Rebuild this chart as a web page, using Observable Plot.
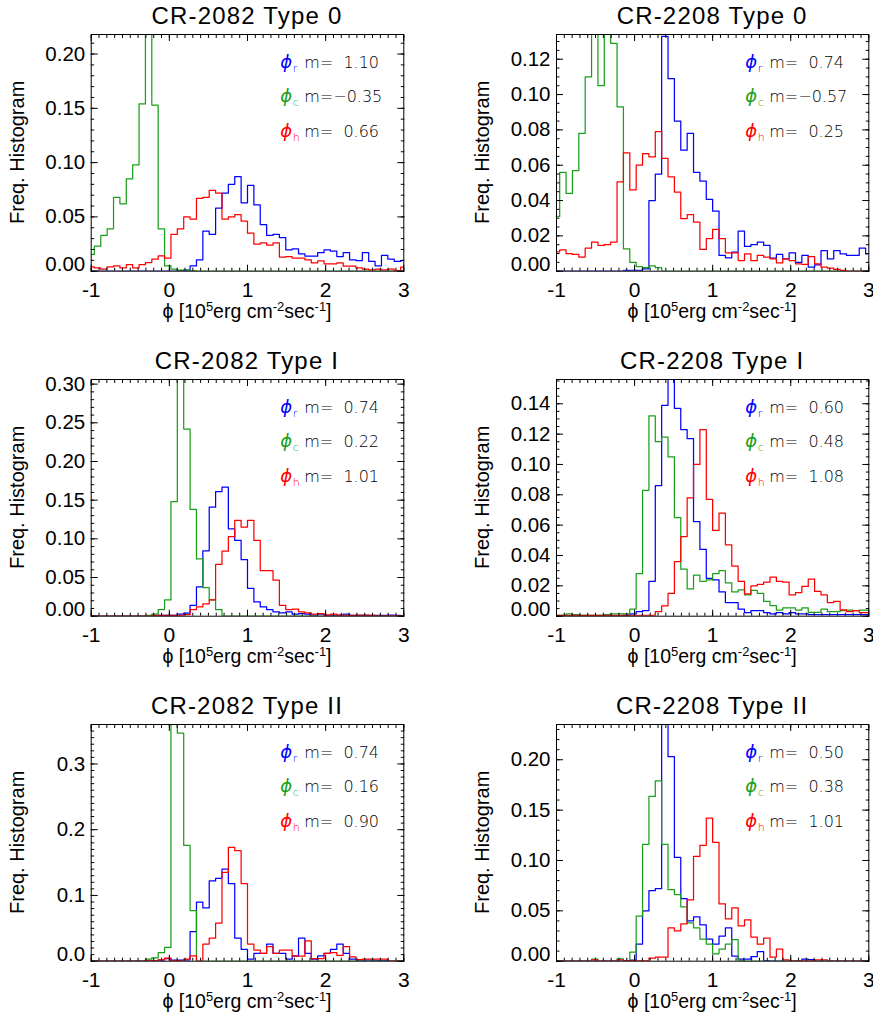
<!DOCTYPE html>
<html><head><meta charset="utf-8">
<script src="https://cdn.jsdelivr.net/npm/d3@7"></script>
<script src="https://cdn.jsdelivr.net/npm/@observablehq/plot@0.6"></script>
<style>
body{margin:0;background:#fff;}
#fig{position:relative;width:873px;height:1023px;overflow:hidden;background:#fff;}
.panel{position:absolute;}
.panel svg{overflow:visible;}
</style></head><body><div id="fig"></div>
<script>
// ---- bin centres (50 bins spanning -1 .. 3) ----
const bins = [-1,-0.9184,-0.8367,-0.7551,-0.6735,-0.5918,-0.5102,-0.4286,-0.3469,-0.2653,
-0.1837,-0.1020,-0.0204,0.0612,0.1429,0.2245,0.3061,0.3878,0.4694,0.5510,
0.6327,0.7143,0.7959,0.8776,0.9592,1.0408,1.1224,1.2041,1.2857,1.3673,
1.4490,1.5306,1.6122,1.6939,1.7755,1.8571,1.9388,2.0204,2.1020,2.1837,
2.2653,2.3469,2.4286,2.5102,2.5918,2.6735,2.7551,2.8367,2.9184,3.0];

const titles = ["CR-2082 Type 0","CR-2208 Type 0","CR-2082 Type I","CR-2208 Type I","CR-2082 Type II","CR-2208 Type II"];
const mR = ["1.10","0.74","0.74","0.60","0.74","0.50"];
const mC = ["\u22120.35","\u22120.57","0.22","0.48","0.16","0.38"];
const mH = ["0.66","0.25","1.01","1.08","0.90","1.01"];
const yMax = [0.218,0.134,0.306,0.156,0.36,0.235];
const yStep = [0.05,0.02,0.05,0.02,0.1,0.05];
const yMinorStep = [0.01,0.005,0.01,0.005,0.01,0.01];
const yDec = [2,2,2,2,1,2];
const xTicks = [-1,0,1,2,3];

// ---- CR-2082 Type 0 ----
const cr2082_t0_r = [0,0,0,0,0,0,0,0,0,0, 0,0,0,0,0.0005,0.001,0.005,0.0105,0.037,0.034,
 0.058,0.072,0.080,0.087,0.063,0.079,0.061,0.043,0.033,0.034, 0.031,0.0197,0.0206,0.016,0.0138,0.0138,0.017,0.0197,0.0185,0.0135,
 0.017,0.0105,0.0098,0.017,0.009,0.005,0.0145,0.011,0.009,0.0098];
const cr2082_t0_c = [0.0154,0.023,0.033,0.039,0.068,0.062,0.085,0.098,0.154,0.218, 0.153,0.039,0.005,0.002,0.001,0.001,0.0005,0,0,0,
 0,0,0,0,0,0,0,0,0,0, 0,0,0,0,0,0,0,0,0,0, 0,0,0,0,0,0,0,0,0,0];
const cr2082_t0_h = [0.004,0.003,0.002,0.004,0.005,0.003,0.006,0.003,0.006,0.008, 0.011,0.014,0.012,0.034,0.039,0.050,0.048,0.067,0.068,0.0745,
 0.072,0.048,0.050,0.052,0.046,0.035,0.025,0.026,0.024,0.026, 0.013,0.0135,0.012,0.012,0.0105,0.0077,0.0095,0.0068,0.0068,0.0077,
 0.0046,0.0046,0.003,0.002,0.0012,0.002,0.0012,0.0018,0.0006,0.0037];
// ---- CR-2208 Type 0 ----
const cr2208_t0_r = [0,0,0,0,0,0,0,0,0,0, 0,0.0005,0.0005,0.0005,0.0013,0.040,0.055,0.133,0.109,0.085,
 0.0685,0.078,0.056,0.051,0.0407,0.034,0.0089,0.0076,0.0108,0.0227, 0.014,0.015,0.0165,0.0146,0.0074,0.0095,0.007,0.0104,0.005,0.0089,
 0.0023,0.0036,0.0117,0.007,0.0117,0.0098,0.0089,0.0089,0.013,0.0098];
const cr2208_t0_c = [0.031,0.056,0.044,0.057,0.078,0.110,0.134,0.105,0.134,0.129, 0.093,0.0127,0.005,0.0026,0.002,0.003,0.002,0,0,0,
 0,0,0,0,0,0,0,0,0,0, 0,0,0,0,0,0,0,0,0,0, 0,0,0,0,0,0,0,0,0,0];
const cr2208_t0_h = [0.011,0.012,0.010,0.0095,0.008,0.013,0.0165,0.0146,0.015,0.0165, 0.0505,0.067,0.046,0.060,0.0666,0.0647,0.079,0.0638,0.0534,0.0448,
 0.0297,0.032,0.0278,0.0123,0.0184,0.0237,0.0184,0.0104,0.0104,0.006, 0.0098,0.006,0.0089,0.008,0.007,0.0047,0.007,0.006,0.0042,0.0038,
 0.0083,0.0042,0.0023,0.0017,0.001,0.0005,0,0,0,0];
// ---- CR-2082 Type I ----
const cr2082_t1_r = [0,0,0,0,0,0,0,0,0,0, 0,0.001,0.001,0.001,0.0026,0.004,0.014,0.038,0.0845,0.141,
 0.161,0.167,0.113,0.098,0.073,0.036,0.0185,0.012,0.0086,0.0056, 0.0043,0.0056,0.0026,0.0034,0.0026,0.0013,0.0026,0.0013,0.001,0.0013,
 0.0026,0.001,0.001,0.001,0.001,0.001,0.001,0.0013,0.001,0.0005];
const cr2082_t1_c = [0,0,0,0,0,0,0,0,0,0.001, 0.0026,0.0086,0.021,0.148,0.306,0.242,0.138,0.074,0.037,0.021,
 0.0086,0,0,0,0,0,0,0,0,0, 0,0,0,0,0,0,0,0,0,0, 0,0,0,0,0,0,0,0,0,0];
const cr2082_t1_h = [0,0,0,0,0,0,0,0,0,0, 0.001,0.001,0.001,0.001,0.001,0.002,0.0086,0.012,0.016,0.021,
 0.067,0.084,0.103,0.124,0.115,0.124,0.098,0.059,0.059,0.0465, 0.014,0.0086,0.009,0.0056,0.0043,0.0026,0.0034,0.0013,0.0026,0.0013,
 0.001,0.001,0.0013,0.0013,0.001,0.0005,0.0005,0.0005,0.0005,0.0005];
// ---- CR-2208 Type I ----
const cr2208_t1_r = [0,0,0,0,0,0,0,0,0,0, 0,0.0007,0.0015,0.003,0.0037,0.023,0.086,0.139,0.156,0.137,
 0.123,0.117,0.0624,0.044,0.025,0.024,0.016,0.009,0.009,0.0046, 0.0024,0.0037,0.0037,0.0024,0.0015,0.0024,0.0015,0.0024,0.0015,0.0015,
 0.001,0.001,0.001,0.001,0.001,0.001,0.001,0.001,0.001,0.001];
const cr2208_t1_c = [0.0005,0.0005,0.0015,0.001,0.0005,0.0005,0.0005,0.0005,0.001,0.0015, 0.0015,0.0015,0.0046,0.028,0.083,0.132,0.115,0.118,0.105,0.065,
 0.031,0.018,0.027,0.023,0.024,0.028,0.030,0.022,0.016,0.0174, 0.014,0.017,0.015,0.0097,0.007,0.004,0.0055,0.0055,0.004,0.0055,
 0.0025,0.0025,0.0046,0.003,0.003,0.0037,0.004,0.0037,0.004,0.004];
const cr2208_t1_h = [0.0005,0.0005,0.0005,0.0005,0.0005,0.0005,0.0005,0.0005,0.0005,0.0005, 0.0005,0.0005,0.0005,0.0005,0.0005,0.0005,0.003,0.0068,0.015,0.036,
 0.0525,0.078,0.100,0.123,0.077,0.0565,0.068,0.047,0.033,0.0229, 0.0147,0.020,0.021,0.0224,0.0257,0.0229,0.0224,0.014,0.0156,0.0196,
 0.0244,0.0163,0.014,0.009,0.0097,0.0042,0.003,0.0037,0.0024,0.0024];
// ---- CR-2082 Type II ----
const cr2082_t2_r = [0,0,0,0,0,0,0,0,0,0, 0,0.0015,0.004,0.0015,0.0015,0.0015,0.045,0.090,0.081,0.122,
 0.126,0.140,0.118,0.035,0.018,0.003,0.012,0.012,0.026,0.012, 0.012,0.003,0.008,0.035,0.012,0.003,0.008,0.012,0.018,0.026,
 0.012,0.003,0.0015,0.0015,0.0015,0.001,0.001,0,0,0];
const cr2082_t2_c = [0,0,0,0,0,0,0,0,0,0.003, 0.005,0.013,0.021,0.36,0.347,0.176,0.077,0,0,0,
 0,0,0,0,0,0,0,0,0,0, 0,0,0,0,0,0,0,0,0,0, 0,0,0,0,0,0,0,0,0,0];
const cr2082_t2_h = [0,0,0,0,0,0,0,0,0,0.001, 0.001,0.002,0.0046,0.001,0.001,0.003,0.008,0,0.026,0.035,
 0.058,0.135,0.173,0.168,0.118,0.026,0.017,0.012,0.022,0.012, 0.017,0.017,0.0076,0.0076,0.031,0.004,0.004,0.012,0.013,0.009,
 0.022,0.0066,0.0025,0.003,0.003,0.003,0.003,0,0,0];
// ---- CR-2208 Type II ----
const cr2208_t2_r = [0,0,0,0,0,0,0,0,0,0, 0,0,0.001,0.017,0.050,0.070,0.072,0.235,0.203,0.103,
 0.062,0.040,0.044,0.036,0.022,0.017,0.025,0.033,0.005,0.002, 0.002,0.0046,0.0096,0.0005,0,0,0,0,0,0.002,
 0.0015,0,0,0,0,0,0,0,0,0];
const cr2208_t2_c = [0,0,0,0,0,0,0.002,0,0,0, 0.0023,0.0005,0.009,0.0447,0.116,0.1636,0.179,0.116,0.071,0.066,
 0.054,0.038,0.033,0.022,0.017,0.0073,0.012,0.017,0.0215,0.0007, 0,0,0,0,0,0,0,0,0,0, 0,0,0,0,0,0,0,0,0,0];
const cr2208_t2_h = [0,0,0,0,0,0,0.0013,0,0,0, 0.0013,0.0005,0.0005,0.0005,0.0005,0.003,0.004,0.004,0.033,0.030,
 0.037,0.061,0.104,0.115,0.142,0.118,0.057,0.042,0.053,0.035, 0.041,0.024,0.017,0.023,0.004,0.012,0.0013,0.0003,0.0003,0.0003,
 0.0003,0.0013,0.0013,0,0,0,0,0,0,0];

const panelSeries = [
  [cr2082_t0_r, cr2082_t0_c, cr2082_t0_h],
  [cr2208_t0_r, cr2208_t0_c, cr2208_t0_h],
  [cr2082_t1_r, cr2082_t1_c, cr2082_t1_h],
  [cr2208_t1_r, cr2208_t1_c, cr2208_t1_h],
  [cr2082_t2_r, cr2082_t2_c, cr2082_t2_h],
  [cr2208_t2_r, cr2208_t2_c, cr2208_t2_h]
];
const seriesColors = ["#0000ff", "#1a9f1a", "#ff0000"];
const seriesSubs = ["r", "c", "h"];

// ---- layout ----
const cols = [{left: 0, width: 436, ml: 90.7, mr: 32.7}, {left: 436, width: 437, ml: 120, mr: 4.7}];
const frameTops = [34, 379.3, 724];
const FH = 236.7, MT = 34, MB = 58;
const FONT = "'Liberation Sans', Arial, Helvetica, sans-serif";
const LFONT = "'DejaVu Sans', sans-serif";
const PHI = "\u03D5";

function ticksFrom(max, step) {
  const n = Math.floor(max / step + 1e-6);
  return d3.range(0, n + 1).map(k => +(k * step).toFixed(4));
}

const fig = document.getElementById("fig");

for (let i = 0; i < 6; i++) {
  const col = cols[i % 2], row = Math.floor(i / 2);
  const W = col.width, H = MT + FH + MB;
  const ymax = yMax[i], dec = yDec[i];
  const yMajor = ticksFrom(ymax, yStep[i]);
  const yMinor = ticksFrom(ymax, yMinorStep[i]);
  const xMinor = d3.range(-10, 31).map(k => k / 10);
  const [sr, sc, sh] = panelSeries[i];
  const toRows = arr => bins.map((x, k) => ({x, y: arr[k]}));
  const noText = {fill: "none", label: null};
  const noTick = {tickSize: 0, label: null};

  const chart = Plot.plot({
    width: W, height: H,
    marginLeft: col.ml, marginRight: col.mr, marginTop: MT, marginBottom: MB,
    style: {fontFamily: FONT, fontSize: "20.5px", color: "black", background: "transparent"},
    x: {domain: [-1, 3]},
    y: {domain: [0, ymax]},
    marks: [
      Plot.line(toRows(sr), {x: "x", y: "y", stroke: seriesColors[0], strokeWidth: 1.25, curve: "step", clip: true}),
      Plot.line(toRows(sc), {x: "x", y: "y", stroke: seriesColors[1], strokeWidth: 1.25, curve: "step", clip: true}),
      Plot.line(toRows(sh), {x: "x", y: "y", stroke: seriesColors[2], strokeWidth: 1.25, curve: "step", clip: true}),
      Plot.frame({stroke: "black", strokeWidth: 1}),
      Plot.axisX(xTicks, {anchor: "bottom", ...noTick, tickPadding: 11, fontSize: 21, tickFormat: d => String(d)}),
      Plot.axisX(xTicks, {anchor: "bottom", tickSize: 6, dy: -6, ...noText}),
      Plot.axisX(xMinor, {anchor: "bottom", tickSize: 3, dy: -3, ...noText}),
      Plot.axisX(xTicks, {anchor: "top", tickSize: 6, dy: 6, ...noText}),
      Plot.axisX(xMinor, {anchor: "top", tickSize: 3, dy: 3, ...noText}),
      Plot.axisY(yMajor.filter(d => d > 0), {anchor: "left", ...noTick, tickPadding: 6, fontSize: 20.5, tickFormat: d => d.toFixed(dec)}),
      Plot.axisY([0], {anchor: "left", ...noTick, tickPadding: 6, dy: -7, fontSize: 20.5, tickFormat: d => d.toFixed(dec)}),
      Plot.axisY(yMajor, {anchor: "left", tickSize: 7, dx: 7, ...noText}),
      Plot.axisY(yMinor, {anchor: "left", tickSize: 3.5, dx: 3.5, ...noText}),
      Plot.axisY(yMajor, {anchor: "right", tickSize: 7, dx: -7, ...noText}),
      Plot.axisY(yMinor, {anchor: "right", tickSize: 3.5, dx: -3.5, ...noText})
    ]
  });

  const svg = d3.select(chart);
  const fl = col.ml, fr = W - col.mr, ft = MT, fb = MT + FH;
  const cx = (fl + fr) / 2;

  // title
  svg.append("text").attr("x", cx).attr("y", ft - 10).attr("text-anchor", "middle")
    .attr("font-family", FONT).attr("font-size", 24).attr("letter-spacing", "1.2px").attr("fill", "black")
    .text(titles[i]);

  // x label (one text element, superscripts as tspans)
  const xl = svg.append("text").attr("x", cx).attr("y", fb + 47).attr("text-anchor", "middle")
    .attr("font-family", FONT).attr("font-size", 19.5).attr("fill", "black");
  xl.append("tspan").text(PHI + " [10");
  xl.append("tspan").attr("dy", -7).attr("font-size", 13).text("5");
  xl.append("tspan").attr("dy", 7).text("erg cm");
  xl.append("tspan").attr("dy", -7).attr("font-size", 13).text("-2");
  xl.append("tspan").attr("dy", 7).text("sec");
  xl.append("tspan").attr("dy", -7).attr("font-size", 13).text("-1");
  xl.append("tspan").attr("dy", 7).text("]");

  // y label
  svg.append("text").attr("transform", `translate(${fl - 67},${(ft + fb) / 2}) rotate(-90)`)
    .attr("text-anchor", "middle").attr("font-family", FONT).attr("font-size", 20).attr("fill", "black")
    .text("Freq. Histogram");

  // legend
  const mvals = [mR[i], mC[i], mH[i]];
  mvals.forEach((m, j) => {
    const base = ft + 34 + j * 34.5;
    const g = svg.append("g").attr("text-anchor", "start").attr("font-family", LFONT);
    g.append("text").attr("x", fr - 123).attr("y", base).attr("fill", seriesColors[j])
      .attr("font-style", "italic").attr("font-weight", 300).attr("font-size", 18).text(PHI);
    g.append("text").attr("x", fr - 110.5).attr("y", base + 4).attr("fill", seriesColors[j])
      .attr("font-weight", 300).attr("font-size", 11).text(seriesSubs[j]);
    const val = m.startsWith("\u2212") ? m : "\u2007" + m;
    g.append("text").attr("x", fr - 99).attr("y", base).attr("fill", "#000")
      .attr("font-weight", 300).attr("font-size", 16).text("m=" + val);
  });

  const div = document.createElement("div");
  div.className = "panel";
  div.style.left = col.left + "px";
  div.style.top = (frameTops[row] - MT) + "px";
  div.appendChild(chart);
  fig.appendChild(div);
}
</script>
</body></html>
